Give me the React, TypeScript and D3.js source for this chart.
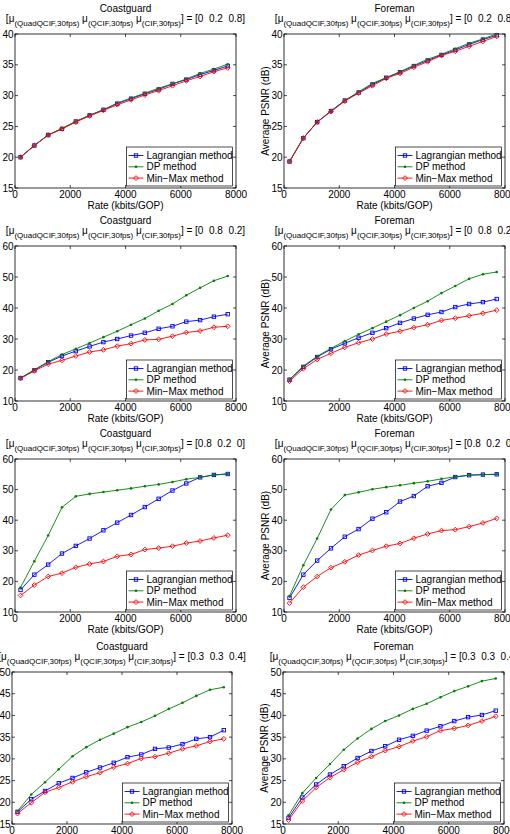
import React from 'react';
import * as d3 from 'd3';

// rate points (kbits/GOP), shared by every panel
const rates = [200, 700, 1200, 1700, 2200, 2700, 3200, 3700, 4200, 4700, 5200, 5700, 6200, 6700, 7200, 7700];

const sequences = ['Coastguard', 'Foreman'];
const weightLabels = ['[0  0.2  0.8]', '[0  0.8  0.2]', '[0.8  0.2  0]', '[0.3  0.3  0.4]'];
const yDomains = [[15, 40], [10, 60], [10, 60], [15, 50]];
const yTickSets = [
  [15, 20, 25, 30, 35, 40],
  [10, 20, 30, 40, 50, 60],
  [10, 20, 30, 40, 50, 60],
  [15, 20, 25, 30, 35, 40, 45, 50],
];
const xTicks = [0, 2000, 4000, 6000, 8000];
const methodNames = ['Lagrangian method', 'DP method', 'Min\u2212Max method'];

// Coastguard, weights [0 0.2 0.8]
const cgA_lag = [20.0, 21.9, 23.6, 24.6, 25.8, 26.8, 27.7, 28.7, 29.5, 30.3, 31.0, 31.9, 32.6, 33.4, 34.1, 34.8];
const cgA_dp = [20.0, 21.9, 23.6, 24.7, 25.8, 26.8, 27.7, 28.8, 29.6, 30.4, 31.2, 31.9, 32.7, 33.6, 34.3, 35.1];
const cgA_mm = [20.0, 21.9, 23.6, 24.6, 25.7, 26.7, 27.6, 28.5, 29.3, 30.1, 30.8, 31.6, 32.4, 33.1, 33.9, 34.5];

// Foreman, weights [0 0.2 0.8]
const fmA_lag = [19.3, 23.1, 25.7, 27.5, 29.2, 30.5, 31.8, 32.9, 33.8, 34.8, 35.7, 36.6, 37.4, 38.3, 39.1, 39.8];
const fmA_dp = [19.3, 23.1, 25.7, 27.5, 29.2, 30.6, 32.0, 32.9, 33.9, 34.9, 35.9, 36.7, 37.6, 38.5, 39.2, 40.0];
const fmA_mm = [19.3, 23.1, 25.7, 27.4, 29.1, 30.4, 31.6, 32.8, 33.6, 34.6, 35.5, 36.5, 37.2, 38.0, 38.8, 39.6];

// Coastguard, weights [0 0.8 0.2]
const cgB_lag = [17.4, 19.9, 22.5, 24.5, 26.1, 27.6, 29.0, 30.0, 31.1, 32.0, 33.3, 34.1, 35.6, 36.1, 37.2, 38.0];
const cgB_dp = [17.4, 20.1, 22.7, 25.0, 26.8, 28.7, 30.6, 32.5, 34.6, 36.6, 39.1, 41.3, 44.1, 46.5, 48.8, 50.3];
const cgB_mm = [17.3, 19.7, 21.9, 23.1, 24.5, 25.8, 26.5, 27.7, 28.5, 29.7, 29.9, 30.9, 32.1, 32.6, 33.8, 34.1];

// Foreman, weights [0 0.8 0.2]
const fmB_lag = [16.9, 21.0, 24.2, 26.7, 28.6, 30.4, 32.0, 33.5, 35.2, 36.6, 37.8, 38.7, 40.3, 41.3, 41.9, 42.9];
const fmB_dp = [16.9, 21.3, 24.4, 27.0, 29.3, 31.5, 33.5, 35.6, 37.7, 40.0, 42.2, 44.8, 47.1, 49.4, 50.9, 51.6];
const fmB_mm = [16.4, 20.4, 23.4, 25.4, 27.3, 28.8, 30.0, 31.6, 32.5, 33.7, 34.6, 36.0, 36.7, 37.5, 38.3, 39.3];

// Coastguard, weights [0.8 0.2 0]
const cgC_lag = [17.2, 22.2, 25.5, 29.1, 31.6, 34.0, 36.7, 39.2, 41.7, 44.3, 47.0, 49.7, 52.0, 54.0, 54.8, 55.1];
const cgC_dp = [18.0, 26.6, 35.0, 44.2, 47.8, 48.6, 49.2, 49.8, 50.4, 51.1, 51.7, 52.5, 53.4, 54.0, 54.8, 55.1];
const cgC_mm = [15.4, 18.8, 21.6, 22.7, 24.6, 25.7, 26.5, 28.2, 28.8, 30.4, 30.9, 31.5, 32.5, 33.2, 34.2, 35.1];

// Foreman, weights [0.8 0.2 0]
const fmC_lag = [14.6, 22.2, 26.8, 30.8, 34.6, 37.1, 40.5, 42.6, 46.1, 47.9, 51.1, 52.2, 54.1, 54.7, 54.9, 55.0];
const fmC_dp = [15.2, 25.3, 34.0, 43.5, 48.2, 49.1, 50.1, 50.8, 51.4, 52.1, 52.7, 53.5, 54.2, 54.7, 54.9, 55.0];
const fmC_mm = [12.9, 18.1, 21.6, 24.5, 26.4, 28.6, 30.1, 31.5, 32.4, 34.1, 35.5, 36.6, 36.9, 37.9, 39.1, 40.6];

// Coastguard, weights [0.3 0.3 0.4]
const cgD_lag = [17.8, 20.7, 22.6, 24.4, 25.6, 26.9, 28.0, 29.1, 30.4, 31.0, 32.3, 32.6, 33.4, 34.6, 35.0, 36.6];
const cgD_dp = [18.0, 21.8, 24.6, 27.6, 30.6, 32.7, 34.4, 35.8, 37.3, 38.5, 39.9, 41.5, 42.9, 44.5, 45.9, 46.5];
const cgD_mm = [17.4, 19.9, 22.3, 23.4, 24.7, 25.9, 26.8, 28.1, 28.9, 30.1, 30.5, 31.3, 32.3, 33.0, 34.0, 34.6];

// Foreman, weights [0.3 0.3 0.4]
const fmD_lag = [16.4, 21.1, 24.1, 26.4, 28.3, 30.2, 31.8, 32.9, 34.4, 35.3, 36.5, 37.5, 38.7, 39.6, 40.1, 41.1];
const fmD_dp = [17.0, 22.1, 25.6, 28.8, 32.1, 34.7, 36.9, 38.7, 40.0, 41.5, 42.7, 44.2, 45.6, 46.7, 47.9, 48.5];
const fmD_mm = [15.9, 20.3, 23.4, 25.7, 27.5, 29.2, 30.5, 31.9, 32.8, 34.1, 35.1, 36.5, 37.0, 37.7, 38.7, 39.8];

const panelSeries = [
  [cgA_lag, cgA_dp, cgA_mm], [fmA_lag, fmA_dp, fmA_mm],
  [cgB_lag, cgB_dp, cgB_mm], [fmB_lag, fmB_dp, fmB_mm],
  [cgC_lag, cgC_dp, cgC_mm], [fmC_lag, fmC_dp, fmC_mm],
  [cgD_lag, cgD_dp, cgD_mm], [fmD_lag, fmD_dp, fmD_mm],
];

// plot boxes for the 4x2 grid
const boxes = [
  { x0: 15, x1: 236, y0: 34, y1: 188 }, { x0: 284, x1: 505, y0: 34, y1: 188 },
  { x0: 15, x1: 236, y0: 246, y1: 401 }, { x0: 284, x1: 505, y0: 246, y1: 401 },
  { x0: 15, x1: 236, y0: 459, y1: 612 }, { x0: 284, x1: 505, y0: 459, y1: 612 },
  { x0: 12, x1: 232, y0: 672, y1: 824 }, { x0: 283, x1: 504, y0: 672, y1: 824 },
];

const colors = ['#0000ff', '#008000', '#ff0000'];
const FONT = '"Liberation Sans", Arial, Helvetica, sans-serif';

function Marker({ kind, x, y, color }: { kind: number; x: number; y: number; color: string }) {
  if (kind === 0) {
    return <rect x={x - 1.7} y={y - 1.7} width={3.4} height={3.4} fill="none" stroke={color} strokeWidth={0.9} />;
  }
  if (kind === 1) {
    return <circle cx={x} cy={y} r={1.3} fill={color} />;
  }
  const d = 2.4;
  return (
    <path
      d={`M${x},${y - d}L${x + d},${y}L${x},${y + d}L${x - d},${y}Z`}
      fill="none"
      stroke={color}
      strokeWidth={0.9}
    />
  );
}

function Panel({ index }: { index: number }) {
  const b = boxes[index];
  const row = Math.floor(index / 2);
  const col = index % 2;
  const series = panelSeries[index];

  const x = d3.scaleLinear().domain([0, 8000]).range([b.x0, b.x1]);
  const y = d3.scaleLinear().domain(yDomains[row]).range([b.y1, b.y0]);
  const line = d3.line<number>().x((_, i) => x(rates[i])).y(d => y(d));
  const cx = (b.x0 + b.x1) / 2;
  const cy = (b.y0 + b.y1) / 2;
  const tl = 3;

  // legend box, tucked into the lower-right corner
  const lw = 106;
  const lh = 39;
  const lx = b.x1 - 3.5 - lw;
  const ly = b.y1 - 2 - lh;

  return (
    <g fontFamily={FONT} fill="#000">
      <text x={cx} y={b.y0 - 22} textAnchor="middle" fontSize={10}>{sequences[col]}</text>
      <text x={cx} y={b.y0 - 12} textAnchor="middle" fontSize={10} style={{ whiteSpace: 'pre' }}>
        [μ<tspan fontSize={8} dy={4}>(QuadQCIF,30fps)</tspan>
        <tspan dy={-4}> μ</tspan><tspan fontSize={8} dy={4}>(QCIF,30fps)</tspan>
        <tspan dy={-4}> μ</tspan><tspan fontSize={8} dy={4}>(CIF,30fps)</tspan>
        <tspan dy={-4}>] = {weightLabels[row]}</tspan>
      </text>

      {/* frame and inward ticks on all sides */}
      <rect x={b.x0} y={b.y0} width={b.x1 - b.x0} height={b.y1 - b.y0} fill="#fff" stroke="#000" strokeWidth={0.8} />
      {xTicks.map(t => (
        <g key={'x' + t}>
          <line x1={x(t)} x2={x(t)} y1={b.y1} y2={b.y1 - tl} stroke="#000" strokeWidth={0.7} />
          <line x1={x(t)} x2={x(t)} y1={b.y0} y2={b.y0 + tl} stroke="#000" strokeWidth={0.7} />
          <text x={x(t)} y={b.y1 + 10} textAnchor="middle" fontSize={10}>{t}</text>
        </g>
      ))}
      {yTickSets[row].map(t => (
        <g key={'y' + t}>
          <line x1={b.x0} x2={b.x0 + tl} y1={y(t)} y2={y(t)} stroke="#000" strokeWidth={0.7} />
          <line x1={b.x1} x2={b.x1 - tl} y1={y(t)} y2={y(t)} stroke="#000" strokeWidth={0.7} />
          <text x={b.x0 - 1.5} y={y(t)} dy="0.35em" textAnchor="end" fontSize={10}>{t}</text>
        </g>
      ))}
      {row < 3 && (
        <text x={cx} y={b.y1 + 20.5} textAnchor="middle" fontSize={10}>Rate (kbits/GOP)</text>
      )}
      <text
        transform={`translate(${b.x0 - (col === 0 ? 21 : 19)},${cy}) rotate(-90)`}
        dy="0.35em"
        textAnchor="middle"
        fontSize={10}
      >
        Average PSNR (dB)
      </text>

      {series.map((vals, k) => (
        <g key={'s' + k}>
          <path d={line(vals) || ''} fill="none" stroke={colors[k]} strokeWidth={0.9} />
          {vals.map((v, i) => (
            <Marker key={i} kind={k} x={x(rates[i])} y={y(v)} color={colors[k]} />
          ))}
        </g>
      ))}

      <rect x={lx} y={ly} width={lw} height={lh} fill="#fff" stroke="#000" strokeWidth={0.7} />
      {methodNames.map((name, k) => {
        const ry = ly + 8.5 + k * 11.3;
        return (
          <g key={name}>
            <line x1={lx + 2} x2={lx + 17} y1={ry} y2={ry} stroke={colors[k]} strokeWidth={0.9} />
            <Marker kind={k} x={lx + 9.5} y={ry} color={colors[k]} />
            <text x={lx + 20} y={ry} dy="0.35em" fontSize={10}>{name}</text>
          </g>
        );
      })}
    </g>
  );
}

export default function App() {
  return (
    <>
      <style>{'body{margin:0;overflow:hidden;background:#fff}'}</style>
      <svg width={510} height={834} style={{ display: 'block' }}>
        <rect width={510} height={834} fill="#fff" />
        {boxes.map((_, i) => (
          <Panel key={i} index={i} />
        ))}
      </svg>
    </>
  );
}
